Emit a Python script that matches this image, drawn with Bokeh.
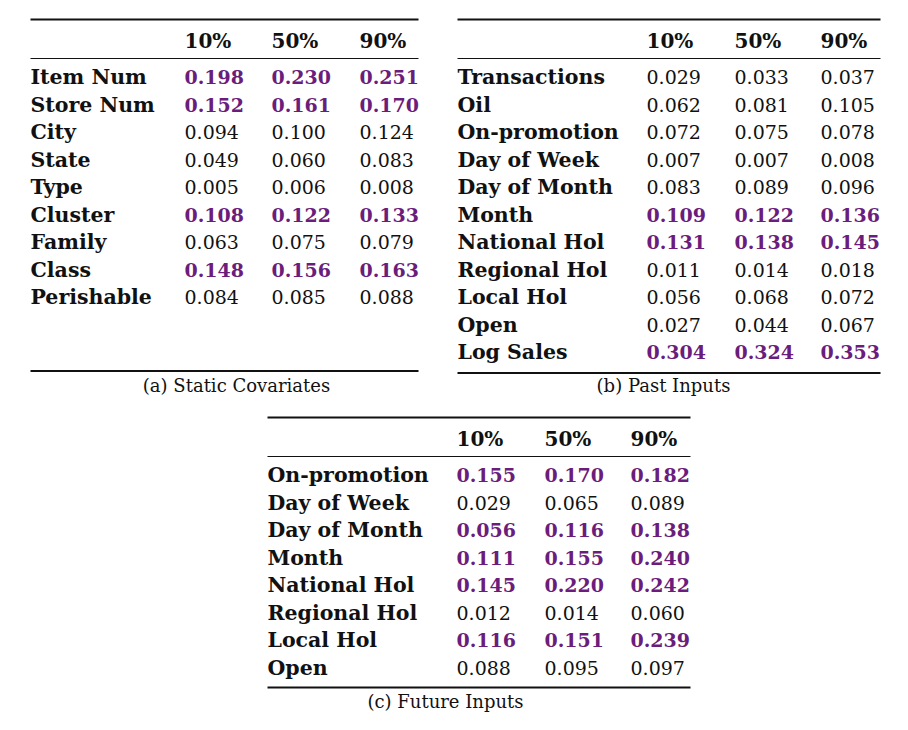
from bokeh.plotting import figure
from bokeh.models import Range1d
from bokeh.core.properties import value
from bokeh.embed import file_html
from bokeh.resources import INLINE

# ---------------- data ----------------
quantiles = ["10%", "50%", "90%"]

static_labels = ["Item Num", "Store Num", "City", "State", "Type", "Cluster",
                 "Family", "Class", "Perishable"]
static_q10 = [0.198, 0.152, 0.094, 0.049, 0.005, 0.108, 0.063, 0.148, 0.084]
static_q50 = [0.230, 0.161, 0.100, 0.060, 0.006, 0.122, 0.075, 0.156, 0.085]
static_q90 = [0.251, 0.170, 0.124, 0.083, 0.008, 0.133, 0.079, 0.163, 0.088]
static_hl = [True, True, False, False, False, True, False, True, False]

past_labels = ["Transactions", "Oil", "On-promotion", "Day of Week", "Day of Month",
               "Month", "National Hol", "Regional Hol", "Local Hol", "Open", "Log Sales"]
past_q10 = [0.029, 0.062, 0.072, 0.007, 0.083, 0.109, 0.131, 0.011, 0.056, 0.027, 0.304]
past_q50 = [0.033, 0.081, 0.075, 0.007, 0.089, 0.122, 0.138, 0.014, 0.068, 0.044, 0.324]
past_q90 = [0.037, 0.105, 0.078, 0.008, 0.096, 0.136, 0.145, 0.018, 0.072, 0.067, 0.353]
past_hl = [False, False, False, False, False, True, True, False, False, False, True]

future_labels = ["On-promotion", "Day of Week", "Day of Month", "Month",
                 "National Hol", "Regional Hol", "Local Hol", "Open"]
future_q10 = [0.155, 0.029, 0.056, 0.111, 0.145, 0.012, 0.116, 0.088]
future_q50 = [0.170, 0.065, 0.116, 0.155, 0.220, 0.014, 0.151, 0.095]
future_q90 = [0.182, 0.089, 0.138, 0.240, 0.242, 0.060, 0.239, 0.097]
future_hl = [True, False, True, True, True, False, True, False]

captions = ["(a) Static Covariates", "(b) Past Inputs", "(c) Future Inputs"]

# ---------------- style ----------------
FONT = "DejaVu Serif"
PURPLE = "#6B1D7C"
BLACK = "#111111"
LABEL_SIZE = "20.5px"
HEAD_SIZE = "20px"
VAL_SIZE = "19px"
CAP_SIZE = "18px"

W, H = 892, 714
p = figure(width=W, height=H, output_backend="svg", toolbar_location=None,
           x_range=Range1d(0, W), y_range=Range1d(H, 0),
           min_border=0)
p.axis.visible = False
p.grid.visible = False
p.outline_line_color = None
p.background_fill_color = "white"
p.border_fill_color = "white"


def draw_table(labels, q10, q50, q90, hl, caption,
               x0, x1, col_x, top, mid, bottom, head_y, row0, step, cap_x, cap_y):
    # rules
    p.segment(x0=[x0, x0], y0=[top, bottom], x1=[x1, x1], y1=[top, bottom],
              line_color=BLACK, line_width=1.8)
    p.segment(x0=[x0], y0=[mid], x1=[x1], y1=[mid], line_color=BLACK, line_width=1.1)
    # header
    p.text(x=col_x, y=[head_y] * 3, text=quantiles, text_font=value(FONT),
           text_font_style="bold", text_font_size=HEAD_SIZE, text_color=BLACK,
           text_baseline="middle", text_align="left")
    ys = [row0 + i * step for i in range(len(labels))]
    p.text(x=[x0] * len(labels), y=ys, text=labels, text_font=value(FONT),
           text_font_style="bold", text_font_size=LABEL_SIZE, text_color=BLACK,
           text_baseline="middle", text_align="left")
    for cx, vals in zip(col_x, [q10, q50, q90]):
        hx, hy, ht, nx, ny, nt = [], [], [], [], [], []
        for y, v, h in zip(ys, vals, hl):
            if h:
                hx.append(cx); hy.append(y); ht.append(f"{v:.3f}")
            else:
                nx.append(cx); ny.append(y); nt.append(f"{v:.3f}")
        if ht:
            p.text(x=hx, y=hy, text=ht, text_font=value(FONT), text_font_style="bold",
                   text_font_size=VAL_SIZE, text_color=PURPLE,
                   text_baseline="middle", text_align="left")
        if nt:
            p.text(x=nx, y=ny, text=nt, text_font=value(FONT), text_font_style="normal",
                   text_font_size=VAL_SIZE, text_color=BLACK,
                   text_baseline="middle", text_align="left")
    p.text(x=[cap_x], y=[cap_y], text=[caption], text_font=value(FONT),
           text_font_size=CAP_SIZE, text_color=BLACK,
           text_baseline="middle", text_align="center")


draw_table(static_labels, static_q10, static_q50, static_q90, static_hl, captions[0],
           30, 418, [184, 271, 359], 19, 58, 370.5, 40, 76.5, 27.5, 236, 385)
draw_table(past_labels, past_q10, past_q50, past_q90, past_hl, captions[1],
           457, 880, [646, 734, 820], 19, 58, 372.5, 40, 76.5, 27.5, 663, 385)
draw_table(future_labels, future_q10, future_q50, future_q90, future_hl, captions[2],
           267, 690, [456, 544, 630], 417, 456, 687, 438, 474.5, 27.5, 445, 701)

open("out.html", "w").write(file_html(p, INLINE))
